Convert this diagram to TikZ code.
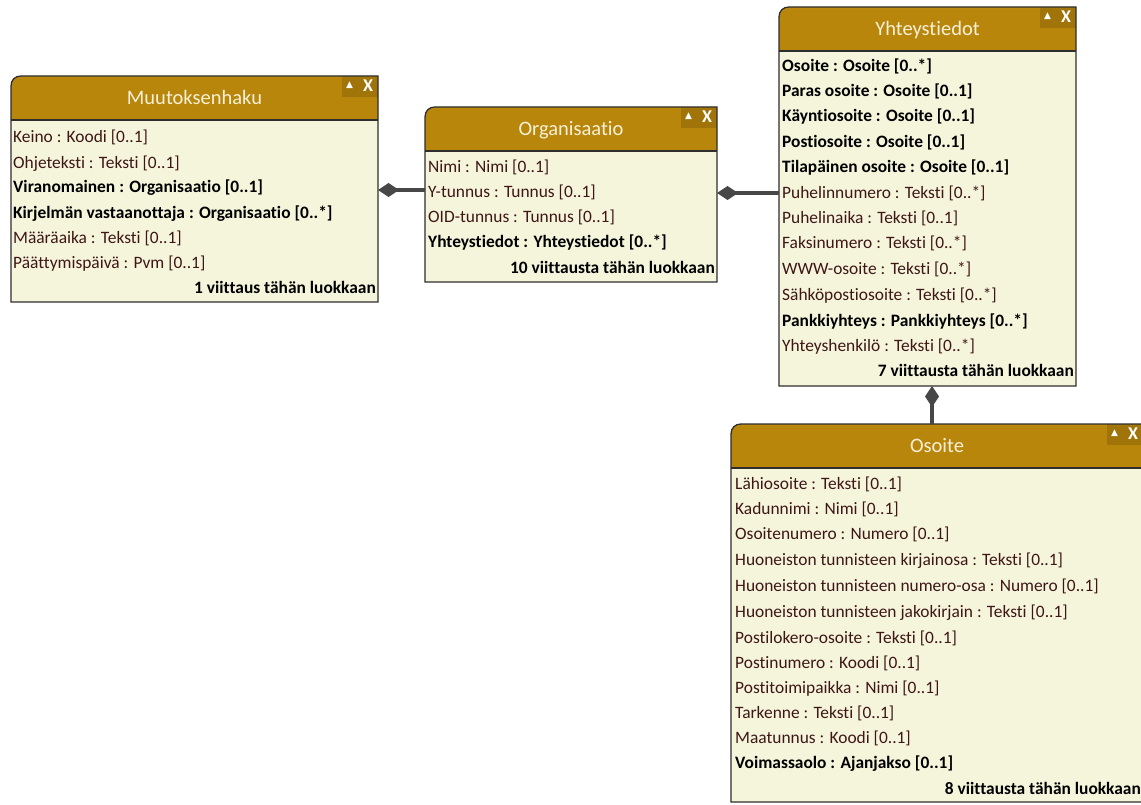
\documentclass[tikz,border=0pt]{standalone}
\usepackage{fontspec}
\setmainfont[Ligatures=NoCommon]{Carlito}
\newfontfamily\symfont{DejaVu Sans}
\usetikzlibrary{arrows.meta,fit,calc}

\definecolor{hdtop}{HTML}{E8B232}
\definecolor{hdbot}{HTML}{B8860B}
\definecolor{bodyc}{HTML}{F5F5DC}
\definecolor{linec}{HTML}{2E2E2E}
\definecolor{rowc}{HTML}{3E1616}
\definecolor{titlec}{HTML}{F7F0D8}
\definecolor{connc}{HTML}{474747}

\pgfdeclareverticalshading{hdrshade}{100bp}{color(0bp)=(hdbot); color(72bp)=(hdbot); color(100bp)=(hdtop)}

\tikzset{
  classframe/.style={inner sep=0pt, outer sep=0pt},
  rowtext/.style={anchor=west, inner sep=0pt, text height=11.2pt, text depth=3.3pt, text=rowc, font=\fontsize{17.4}{20}\selectfont},
  rowbold/.style={rowtext, text=black, font=\fontsize{17.4}{20}\selectfont\bfseries},
  foottext/.style={rowbold, anchor=east},
  titletext/.style={anchor=base, inner sep=0pt, text=titlec, font=\fontsize{20.5}{24}\selectfont},
  icontext/.style={inner sep=0pt, text=white},
  conn/.style={draw=connc, line width=3.5pt, {Diamond[length=21pt,width=14pt,line width=0pt]}-},
}

\newcommand\drawclass[2]{%
  \fill[bodyc] ($(#1.north west)+(0,44)$) rectangle (#1.south east);
  \shade[shading=hdrshade] ($(#1.north west)+(0,44)$) -- ($(#1.north west)+(0,10)$) .. controls ($(#1.north west)+(0,4)$) and ($(#1.north west)+(4,0)$) .. ($(#1.north west)+(10,0)$) -- (#1.north east) -- ($(#1.north east)+(0,44)$) -- cycle;
  \fill[black, fill opacity=0.13] ($(#1.north east)+(-36,0)$) rectangle ($(#1.north east)+(0,21)$);
  \draw[linec, line width=1.3pt] (#1.south west) -- ($(#1.north west)+(0,10)$) .. controls ($(#1.north west)+(0,4)$) and ($(#1.north west)+(4,0)$) .. ($(#1.north west)+(10,0)$) -- (#1.north east) -- (#1.south east) -- cycle;
  \draw[linec, line width=1.3pt] ($(#1.north west)+(0,44)$) -- ($(#1.north east)+(0,44)$);
  \node[titletext] (#1-title) at ($(#1.north)+(0,28.5)$) {#2};
  \node[icontext, font=\symfont\fontsize{9}{10}\selectfont] (#1-up) at ($(#1.north east)+(-28.5,9.5)$) {▲};
  \node[icontext, font=\fontsize{18}{19}\selectfont\bfseries] (#1-close) at ($(#1.north east)+(-10,9.5)$) {X};
}

\begin{document}
\begin{tikzpicture}[x=1pt,y=-1pt]
\useasboundingbox (0,0) rectangle (1141,805);
\fill[white] (0,0) rectangle (1141,805);

% class frames
\node[classframe, fit={(11,76)(378,302)}] (muut) {};
\node[classframe, fit={(425,107)(717,282)}] (org) {};
\node[classframe, fit={(779,7)(1076,386)}] (yht) {};
\node[classframe, fit={(731,424)(1143,802)}] (oso) {};

\drawclass{muut}{Muutoksenhaku}
\drawclass{org}{Organisaatio}
\drawclass{yht}{Yhteystiedot}
\drawclass{oso}{Osoite}

% Muutoksenhaku rows
\node[rowtext] (m1) at (13,139) {Keino : Koodi [0..1]};
\node[rowtext] (m2) at (13,164.3) {Ohjeteksti : Teksti [0..1]};
\node[rowbold] (m3) at (13,189) {Viranomainen : Organisaatio [0..1]};
\node[rowbold] (m4) at (13,214.3) {Kirjelmän vastaanottaja : Organisaatio [0..*]};
\node[rowtext] (m5) at (13,240) {Määräaika : Teksti [0..1]};
\node[rowtext] (m6) at (13,265) {Päättymispäivä : Pvm [0..1]};
\node[foottext] (mf) at (376,290) {1 viittaus tähän luokkaan};

% Organisaatio rows
\node[rowtext] (o1) at (428,168.3) {Nimi : Nimi [0..1]};
\node[rowtext] (o2) at (428,193.3) {Y-tunnus : Tunnus [0..1]};
\node[rowtext] (o3) at (428,218.3) {OID-tunnus : Tunnus [0..1]};
\node[rowbold] (o4) at (428,244) {Yhteystiedot : Yhteystiedot [0..*]};
\node[foottext] (of) at (715,270) {10 viittausta tähän luokkaan};

% Yhteystiedot rows
\node[rowbold] (y1) at (782,67.7) {Osoite : Osoite [0..*]};
\node[rowbold] (y2) at (782,92.7) {Paras osoite : Osoite [0..1]};
\node[rowbold] (y3) at (782,117.7) {Käyntiosoite : Osoite [0..1]};
\node[rowbold] (y4) at (782,143.3) {Postiosoite : Osoite [0..1]};
\node[rowbold] (y5) at (782,169) {Tilapäinen osoite : Osoite [0..1]};
\node[rowtext] (y6) at (782,195) {Puhelinnumero : Teksti [0..*]};
\node[rowtext] (y7) at (782,220) {Puhelinaika : Teksti [0..1]};
\node[rowtext] (y8) at (782,245) {Faksinumero : Teksti [0..*]};
\node[rowtext] (y9) at (782,270.7) {WWW-osoite : Teksti [0..*]};
\node[rowtext] (y10) at (782,296.7) {Sähköpostiosoite : Teksti [0..*]};
\node[rowbold] (y11) at (782,322.3) {Pankkiyhteys : Pankkiyhteys [0..*]};
\node[rowtext] (y12) at (782,347.3) {Yhteyshenkilö : Teksti [0..*]};
\node[foottext] (yf) at (1074,372.7) {7 viittausta tähän luokkaan};

% Osoite rows
\node[rowtext] (s1) at (735,486) {Lähiosoite : Teksti [0..1]};
\node[rowtext] (s2) at (735,510.7) {Kadunnimi : Nimi [0..1]};
\node[rowtext] (s3) at (735,536) {Osoitenumero : Numero [0..1]};
\node[rowtext] (s4) at (735,561.7) {Huoneiston tunnisteen kirjainosa : Teksti [0..1]};
\node[rowtext] (s5) at (735,587.7) {Huoneiston tunnisteen numero-osa : Numero [0..1]};
\node[rowtext] (s6) at (735,613.3) {Huoneiston tunnisteen jakokirjain : Teksti [0..1]};
\node[rowtext] (s7) at (735,639.3) {Postilokero-osoite : Teksti [0..1]};
\node[rowtext] (s8) at (735,664.3) {Postinumero : Koodi [0..1]};
\node[rowtext] (s9) at (735,689.3) {Postitoimipaikka : Nimi [0..1]};
\node[rowtext] (s10) at (735,714.3) {Tarkenne : Teksti [0..1]};
\node[rowtext] (s11) at (735,739.3) {Maatunnus : Koodi [0..1]};
\node[rowbold] (s12) at (735,765) {Voimassaolo : Ajanjakso [0..1]};
\node[foottext] (sf) at (1141,790.7) {8 viittausta tähän luokkaan};

% connectors (composition)
\coordinate (k1) at (400,190);
\coordinate (k2) at (750,193);
\coordinate (k3) at (932,405);
\draw[conn] (muut.east |- k1) -- (org.west |- k1);
\draw[conn] (org.east |- k2) -- (yht.west |- k2);
\draw[conn] (yht.south -| k3) -- (oso.north -| k3);
\end{tikzpicture}
\end{document}
